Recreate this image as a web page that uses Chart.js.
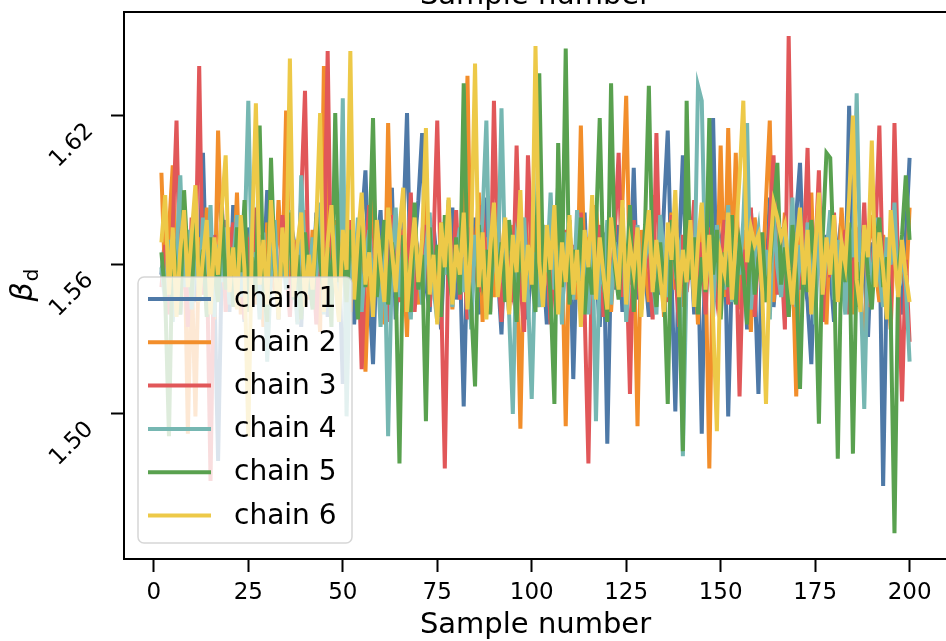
<!DOCTYPE html>
<html>
<head>
<meta charset="utf-8">
<title>Trace plot</title>
<script src="https://cdn.jsdelivr.net/npm/chart.js@4.4.1/dist/chart.umd.min.js"></script>
<style>
  html, body { margin: 0; padding: 0; background: #fff; overflow: hidden; }
  #trace-chart { display: block; }
</style>
</head>
<body>
<canvas id="trace-chart" width="960" height="641"></canvas>
<script>
// MCMC samples of beta_d, one array per chain (samples 2..200)
var firstSample = 2;

var chain1 = [
  1.556, 1.571, 1.548, 1.583, 1.562, 1.540, 1.575, 1.553, 1.567,
  1.545, 1.560, 1.605, 1.548, 1.570, 1.552, 1.481, 1.563, 1.578, 1.541,
  1.584, 1.556, 1.569, 1.537, 1.575, 1.560, 1.546, 1.572, 1.555, 1.590,
  1.551, 1.566, 1.538, 1.579, 1.557, 1.543, 1.570, 1.561, 1.535, 1.574,
  1.558, 1.547, 1.581, 1.553, 1.566, 1.539, 1.572, 1.556, 1.563, 1.512,
  1.548, 1.571, 1.536, 1.562, 1.577, 1.598, 1.550, 1.520, 1.566, 1.582,
  1.544, 1.569, 1.591, 1.538, 1.560, 1.575, 1.621, 1.547, 1.568, 1.586,
  1.613, 1.552, 1.541, 1.576, 1.559, 1.534, 1.570, 1.555, 1.583, 1.546,
  1.562, 1.503, 1.567, 1.551, 1.579, 1.540, 1.563, 1.587, 1.548, 1.571,
  1.557, 1.532, 1.574, 1.560, 1.545, 1.580, 1.553, 1.566, 1.538, 1.572,
  1.549, 1.585, 1.561, 1.536, 1.570, 1.556, 1.593, 1.542, 1.564, 1.578,
  1.514, 1.567, 1.552, 1.581, 1.544, 1.569, 1.558, 1.535, 1.573, 1.488,
  1.562, 1.550, 1.576, 1.541, 1.565, 1.553, 1.599, 1.546, 1.571, 1.557,
  1.539, 1.574, 1.561, 1.548, 1.583, 1.614, 1.555, 1.501, 1.566, 1.604,
  1.552, 1.570, 1.540, 1.563, 1.492, 1.577, 1.556, 1.619, 1.545, 1.568,
  1.579, 1.499, 1.560, 1.573, 1.547, 1.566, 1.534, 1.582, 1.554, 1.508,
  1.568, 1.551, 1.587, 1.543, 1.562, 1.575, 1.538, 1.564, 1.552, 1.580,
  1.601, 1.556, 1.545, 1.520, 1.567, 1.585, 1.549, 1.572, 1.558, 1.537,
  1.566, 1.579, 1.550, 1.624, 1.561, 1.543, 1.574, 1.557, 1.531, 1.569,
  1.552, 1.578, 1.471, 1.560, 1.545, 1.583, 1.556, 1.540, 1.571, 1.603
];

var chain2 = [
  1.597, 1.552, 1.574, 1.600, 1.545, 1.566, 1.581, 1.492, 1.560,
  1.499, 1.571, 1.548, 1.583, 1.556, 1.538, 1.614, 1.562, 1.547, 1.575,
  1.553, 1.589, 1.540, 1.567, 1.558, 1.580, 1.544, 1.569, 1.535, 1.577,
  1.561, 1.549, 1.586, 1.555, 1.622, 1.548, 1.570, 1.537, 1.563, 1.582,
  1.546, 1.574, 1.557, 1.533, 1.640, 1.560, 1.543, 1.578, 1.552, 1.568,
  1.584, 1.541, 1.565, 1.555, 1.573, 1.517, 1.562, 1.587, 1.549, 1.570,
  1.536, 1.617, 1.554, 1.575, 1.546, 1.563, 1.531, 1.580, 1.558, 1.544,
  1.571, 1.590, 1.548, 1.565, 1.539, 1.577, 1.556, 1.584, 1.542, 1.566,
  1.553, 1.578, 1.636, 1.545, 1.562, 1.589, 1.537, 1.571, 1.558, 1.547,
  1.583, 1.554, 1.569, 1.540, 1.576, 1.561, 1.494, 1.572, 1.550, 1.587,
  1.557, 1.543, 1.575, 1.564, 1.538, 1.580, 1.552, 1.568, 1.495, 1.573,
  1.559, 1.546, 1.616, 1.555, 1.571, 1.537, 1.584, 1.562, 1.549, 1.576,
  1.541, 1.569, 1.557, 1.585, 1.628, 1.552, 1.566, 1.495, 1.574, 1.560,
  1.545, 1.588, 1.556, 1.572, 1.539, 1.563, 1.581, 1.550, 1.567, 1.543,
  1.578, 1.555, 1.569, 1.536, 1.584, 1.561, 1.478, 1.570, 1.552, 1.608,
  1.547, 1.615, 1.558, 1.605, 1.542, 1.574, 1.560, 1.533, 1.579, 1.564,
  1.551, 1.586, 1.618, 1.545, 1.570, 1.556, 1.581, 1.539, 1.563, 1.507,
  1.575, 1.553, 1.566, 1.589, 1.544, 1.571, 1.558, 1.536, 1.577, 1.562,
  1.549, 1.583, 1.557, 1.568, 1.540, 1.575, 1.552, 1.521, 1.566, 1.580,
  1.558, 1.545, 1.572, 1.561, 1.534, 1.577, 1.550, 1.566, 1.548, 1.583
];

var chain3 = [
  1.551, 1.568, 1.540, 1.575, 1.618, 1.547, 1.562, 1.535, 1.579,
  1.556, 1.640, 1.548, 1.566, 1.473, 1.572, 1.553, 1.585, 1.541, 1.563,
  1.577, 1.549, 1.560, 1.538, 1.571, 1.555, 1.583, 1.546, 1.567, 1.533,
  1.574, 1.558, 1.545, 1.580, 1.562, 1.539, 1.569, 1.552, 1.587, 1.630,
  1.549, 1.566, 1.536, 1.577, 1.559, 1.646, 1.543, 1.571, 1.554, 1.565,
  1.540, 1.578, 1.556, 1.569, 1.518, 1.563, 1.584, 1.547, 1.572, 1.550,
  1.566, 1.537, 1.580, 1.558, 1.545, 1.574, 1.553, 1.589, 1.541, 1.564,
  1.555, 1.576, 1.543, 1.568, 1.618, 1.551, 1.478, 1.570, 1.557, 1.582,
  1.546, 1.563, 1.538, 1.575, 1.560, 1.549, 1.584, 1.555, 1.541, 1.626,
  1.561, 1.537, 1.572, 1.556, 1.548, 1.608, 1.553, 1.533, 1.604, 1.566,
  1.544, 1.579, 1.558, 1.570, 1.536, 1.563, 1.585, 1.550, 1.574, 1.545,
  1.568, 1.555, 1.581, 1.542, 1.480, 1.566, 1.559, 1.576, 1.539, 1.562,
  1.551, 1.573, 1.605, 1.547, 1.565, 1.508, 1.578, 1.556, 1.542, 1.570,
  1.560, 1.538, 1.613, 1.552, 1.567, 1.545, 1.580, 1.557, 1.535, 1.572,
  1.549, 1.564, 1.586, 1.553, 1.569, 1.540, 1.575, 1.558, 1.546, 1.563,
  1.578, 1.544, 1.560, 1.571, 1.507, 1.566, 1.552, 1.583, 1.539, 1.568,
  1.556, 1.545, 1.576, 1.604, 1.548, 1.565, 1.534, 1.652, 1.559, 1.573,
  1.550, 1.566, 1.607, 1.541, 1.562, 1.598, 1.537, 1.570, 1.555, 1.581,
  1.546, 1.563, 1.574, 1.540, 1.558, 1.569, 1.551, 1.585, 1.543, 1.560,
  1.572, 1.616, 1.548, 1.565, 1.538, 1.617, 1.556, 1.505, 1.562, 1.529
];

var chain4 = [
  1.559, 1.545, 1.570, 1.537, 1.563, 1.596, 1.551, 1.574, 1.542,
  1.566, 1.548, 1.579, 1.556, 1.584, 1.539, 1.568, 1.553, 1.575, 1.544,
  1.561, 1.580, 1.547, 1.569, 1.626, 1.552, 1.565, 1.538, 1.573, 1.521,
  1.556, 1.578, 1.543, 1.567, 1.550, 1.582, 1.559, 1.536, 1.596, 1.562,
  1.548, 1.571, 1.555, 1.585, 1.540, 1.564, 1.553, 1.576, 1.545, 1.627,
  1.499, 1.568, 1.552, 1.579, 1.541, 1.563, 1.574, 1.549, 1.566, 1.535,
  1.572, 1.491, 1.560, 1.583, 1.547, 1.569, 1.554, 1.538, 1.577, 1.558,
  1.544, 1.566, 1.581, 1.551, 1.537, 1.570, 1.556, 1.586, 1.543, 1.564,
  1.575, 1.549, 1.561, 1.534, 1.572, 1.555, 1.580, 1.618, 1.546, 1.567,
  1.553, 1.623, 1.558, 1.541, 1.500, 1.570, 1.562, 1.579, 1.548, 1.506,
  1.565, 1.543, 1.576, 1.557, 1.589, 1.550, 1.568, 1.536, 1.573, 1.559,
  1.546, 1.582, 1.554, 1.567, 1.540, 1.574, 1.497, 1.561, 1.552, 1.578,
  1.544, 1.569, 1.558, 1.583, 1.537, 1.565, 1.551, 1.576, 1.548, 1.562,
  1.571, 1.555, 1.540, 1.580, 1.563, 1.547, 1.574, 1.559, 1.566, 1.483,
  1.557, 1.572, 1.548, 1.632, 1.626, 1.553, 1.567, 1.539, 1.576, 1.561,
  1.550, 1.584, 1.545, 1.569, 1.556, 1.578, 1.617, 1.542, 1.563, 1.574,
  1.552, 1.566, 1.538, 1.581, 1.559, 1.547, 1.572, 1.555, 1.587, 1.543,
  1.568, 1.551, 1.577, 1.560, 1.536, 1.573, 1.549, 1.564, 1.582, 1.546,
  1.570, 1.557, 1.540, 1.575, 1.563, 1.629, 1.554, 1.502, 1.567, 1.548,
  1.579, 1.556, 1.543, 1.571, 1.560, 1.585, 1.547, 1.566, 1.552, 1.521
];

var chain5 = [
  1.565, 1.548, 1.491, 1.572, 1.556, 1.540, 1.590, 1.561, 1.547,
  1.578, 1.553, 1.566, 1.539, 1.571, 1.558, 1.545, 1.582, 1.550, 1.567,
  1.543, 1.575, 1.557, 1.586, 1.541, 1.563, 1.549, 1.616, 1.552, 1.537,
  1.603, 1.558, 1.544, 1.570, 1.555, 1.581, 1.546, 1.564, 1.538, 1.573,
  1.556, 1.542, 1.579, 1.561, 1.548, 1.567, 1.535, 1.621, 1.553, 1.569,
  1.545, 1.574, 1.559, 1.538, 1.583, 1.551, 1.566, 1.619, 1.547, 1.562,
  1.578, 1.544, 1.569, 1.555, 1.480, 1.572, 1.558, 1.541, 1.585, 1.550,
  1.564, 1.497, 1.575, 1.553, 1.568, 1.539, 1.580, 1.557, 1.546, 1.571,
  1.548, 1.633, 1.560, 1.543, 1.511, 1.576, 1.555, 1.566, 1.540, 1.582,
  1.552, 1.569, 1.545, 1.578, 1.561, 1.537, 1.574, 1.549, 1.563, 1.556,
  1.541, 1.637, 1.555, 1.570, 1.547, 1.504, 1.609, 1.551, 1.647, 1.544,
  1.566, 1.553, 1.579, 1.540, 1.562, 1.548, 1.574, 1.619, 1.555, 1.537,
  1.633, 1.559, 1.546, 1.572, 1.553, 1.584, 1.541, 1.565, 1.550, 1.576,
  1.632, 1.557, 1.543, 1.569, 1.552, 1.504, 1.578, 1.560, 1.547, 1.485,
  1.626, 1.554, 1.571, 1.540, 1.563, 1.549, 1.619, 1.556, 1.574, 1.538,
  1.565, 1.551, 1.580, 1.544, 1.568, 1.557, 1.536, 1.575, 1.548, 1.562,
  1.573, 1.545, 1.559, 1.582, 1.601, 1.552, 1.567, 1.539, 1.576, 1.555,
  1.510, 1.566, 1.549, 1.578, 1.558, 1.496, 1.571, 1.605, 1.603, 1.560,
  1.482, 1.569, 1.553, 1.577, 1.484, 1.561, 1.547, 1.574, 1.556, 1.542,
  1.568, 1.579, 1.551, 1.563, 1.540, 1.452, 1.557, 1.572, 1.596, 1.570
];

var chain6 = [
  1.569, 1.588, 1.548, 1.575, 1.539, 1.566, 1.582, 1.551, 1.572,
  1.592, 1.545, 1.563, 1.578, 1.540, 1.571, 1.556, 1.583, 1.604, 1.549,
  1.567, 1.542, 1.580, 1.558, 1.491, 1.573, 1.625, 1.552, 1.570, 1.544,
  1.586, 1.561, 1.538, 1.575, 1.555, 1.643, 1.547, 1.568, 1.581, 1.543,
  1.564, 1.550, 1.577, 1.621, 1.541, 1.569, 1.584, 1.553, 1.537, 1.574,
  1.558, 1.646, 1.546, 1.571, 1.589, 1.552, 1.565, 1.539, 1.578, 1.560,
  1.545, 1.583, 1.566, 1.549, 1.574, 1.591, 1.541, 1.562, 1.579, 1.553,
  1.570, 1.615, 1.548, 1.564, 1.536, 1.577, 1.559, 1.587, 1.544, 1.568,
  1.556, 1.581, 1.542, 1.570, 1.641, 1.551, 1.573, 1.538, 1.566, 1.585,
  1.547, 1.563, 1.579, 1.540, 1.572, 1.557, 1.590, 1.545, 1.568, 1.552,
  1.648, 1.561, 1.543, 1.576, 1.558, 1.584, 1.540, 1.569, 1.553, 1.580,
  1.548, 1.566, 1.535, 1.574, 1.559, 1.588, 1.546, 1.571, 1.556, 1.542,
  1.579, 1.563, 1.550, 1.586, 1.544, 1.568, 1.557, 1.575, 1.539, 1.565,
  1.582, 1.549, 1.570, 1.555, 1.541, 1.577, 1.562, 1.590, 1.547, 1.566,
  1.553, 1.578, 1.543, 1.569, 1.585, 1.550, 1.572, 1.538, 1.493, 1.564,
  1.557, 1.581, 1.546, 1.570, 1.595, 1.626, 1.561, 1.575, 1.568, 1.572,
  1.549, 1.504, 1.563, 1.585, 1.579, 1.571, 1.576, 1.558, 1.544, 1.567,
  1.583, 1.552, 1.574, 1.540, 1.566, 1.589, 1.548, 1.571, 1.556, 1.580,
  1.545, 1.569, 1.560, 1.587, 1.620, 1.554, 1.541, 1.576, 1.563, 1.610,
  1.551, 1.573, 1.558, 1.538, 1.582, 1.564, 1.547, 1.570, 1.556, 1.545
];

var chainLabels = ['chain 1', 'chain 2', 'chain 3', 'chain 4', 'chain 5', 'chain 6'];
var xTicks = [0, 25, 50, 75, 100, 125, 150, 175, 200];
var yTicks = [1.50, 1.56, 1.62];

var chains = [chain1, chain2, chain3, chain4, chain5, chain6];
var colors = ['#4e79a7', '#f28e2b', '#e15759', '#76b7b2', '#59a14f', '#edc948'];
var FONT = "'DejaVu Sans', Verdana, sans-serif";

// legend box in the lower left corner of the plot
var legendBox = {
    id: 'legendBox',
    afterDatasetsDraw: function (chart) {
        var ctx = chart.ctx;
        var x = 138, y = 277, w = 214, h = 266;
        ctx.save();
        ctx.beginPath();
        ctx.roundRect(x, y, w, h, 6);
        ctx.fillStyle = 'rgba(255,255,255,0.8)';
        ctx.fill();
        ctx.strokeStyle = 'rgba(204,204,204,0.8)';
        ctx.lineWidth = 1.5;
        ctx.stroke();

        ctx.font = '28px ' + FONT;
        ctx.textBaseline = 'middle';
        ctx.fillStyle = '#000';
        chart.data.datasets.forEach(function (ds, i) {
            var rowY = 299 + i * 43.3;
            ctx.beginPath();
            ctx.moveTo(148, rowY);
            ctx.lineTo(211, rowY);
            ctx.strokeStyle = ds.borderColor;
            ctx.lineWidth = 4;
            ctx.stroke();
            ctx.fillText(ds.label, 234, rowY + 1);
        });
        ctx.restore();
    }
};

// top/right spines, cut-off top title and the beta_d axis label
var frameAndLabels = {
    id: 'frameAndLabels',
    afterDraw: function (chart) {
        var ctx = chart.ctx;
        var a = chart.chartArea;
        ctx.save();
        ctx.strokeStyle = '#000';
        ctx.lineWidth = 2;
        ctx.beginPath();
        ctx.moveTo(a.left - 1, a.top);
        ctx.lineTo(a.right, a.top);
        ctx.lineTo(a.right, a.bottom + 1);
        ctx.stroke();

        ctx.fillStyle = '#000';
        ctx.textAlign = 'center';
        ctx.textBaseline = 'alphabetic';
        ctx.font = '29px ' + FONT;
        ctx.fillText('Sample number', (a.left + a.right) / 2, 4);

        // beta_d, rotated
        ctx.translate(24, (a.top + a.bottom) / 2);
        ctx.rotate(-Math.PI / 2);
        ctx.textAlign = 'left';
        ctx.font = 'italic 30px ' + FONT;
        var wb = ctx.measureText('β').width;
        ctx.font = '20px ' + FONT;
        var wd = ctx.measureText('d').width;
        var start = -(wb + wd) / 2;
        ctx.font = 'italic 30px ' + FONT;
        ctx.fillText('β', start, 8);
        ctx.font = '20px ' + FONT;
        ctx.fillText('d', start + wb + 1, 14);
        ctx.restore();
    }
};

var datasets = chains.map(function (values, i) {
    return {
        label: chainLabels[i],
        data: values.map(function (v, k) { return { x: firstSample + k, y: v }; }),
        borderColor: colors[i],
        backgroundColor: colors[i],
        borderWidth: 4,
        pointRadius: 0,
        tension: 0,
        fill: false,
        order: chains.length - 1 - i
    };
});

new Chart(document.getElementById('trace-chart'), {
    type: 'line',
    data: { datasets: datasets },
    options: {
        responsive: false,
        animation: false,
        events: [],
        layout: { padding: { left: 0, top: 12, right: 13, bottom: 0 } },
        plugins: {
            legend: { display: false },
            tooltip: { enabled: false }
        },
        scales: {
            x: {
                type: 'linear',
                min: -7.9,
                max: 209.9,
                afterBuildTicks: function (s) { s.ticks = xTicks.map(function (v) { return { value: v }; }); },
                afterFit: function (s) {
                    s.height = 82;
                    s.paddingLeft = 0;
                    s.paddingRight = 0;
                },
                border: { display: true, color: '#000', width: 2 },
                grid: { drawOnChartArea: false, drawTicks: true, tickLength: 13, tickWidth: 2, tickColor: '#000' },
                ticks: { color: '#000', font: { family: FONT, size: 23 }, padding: 7, maxRotation: 0 },
                title: { display: true, text: 'Sample number', color: '#000', font: { family: FONT, size: 29 }, padding: { top: 0, bottom: -2 } }
            },
            y: {
                type: 'linear',
                min: 1.4416,
                max: 1.6617,
                afterBuildTicks: function (s) { s.ticks = yTicks.map(function (v) { return { value: v }; }); },
                afterFit: function (s) {
                    s.width = 124;
                    s.paddingTop = 0;
                    s.paddingBottom = 0;
                },
                border: { display: true, color: '#000', width: 2 },
                grid: { drawOnChartArea: false, drawTicks: true, tickLength: 13, tickWidth: 2, tickColor: '#000' },
                ticks: {
                    color: '#000',
                    font: { family: FONT, size: 23 },
                    padding: 21,
                    labelOffset: 12,
                    minRotation: 45,
                    maxRotation: 45,
                    callback: function (v) { return v.toFixed(2); }
                }
            }
        }
    },
    plugins: [legendBox, frameAndLabels]
});
</script>
</body>
</html>
